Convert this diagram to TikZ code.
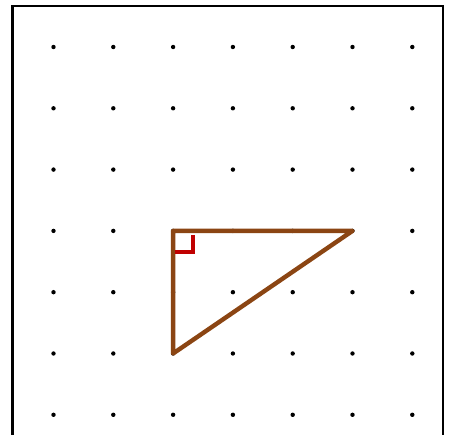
\documentclass[tikz,border=0pt]{standalone}
\usepackage{xcolor}
\usepackage{tikz}
\usetikzlibrary{calc}
\definecolor{sidebrown}{HTML}{8B4513}
\definecolor{markred}{HTML}{C00000}

\begin{document}
\begin{tikzpicture}[
    x=59.8pt, y=-61.3pt,
    gridpt/.style={
        circle, fill=black, inner sep=0pt, minimum size=4.4pt
    },
    frame/.style={
        draw=black, line width=2.2pt
    },
    side/.style={
        draw=sidebrown, line width=4.4pt, line cap=round, line join=round
    },
    rightmark/.style={
        draw=markred, line width=4.2pt
    }
]

% page size
\useasboundingbox (-53.5pt,47pt) rectangle (396.5pt,-388pt);

% outer frame
\draw[frame] (-41pt,41pt) rectangle (389.5pt,-400pt);

% dot grid
\foreach \i in {0,...,6} {
    \foreach \j in {0,...,6} {
        \node[gridpt] (d\i\j) at (\i,\j) {};
    }
}

% triangle
\coordinate (A) at (2,3);
\coordinate (B) at (5,3);
\coordinate (C) at (2,5);
\draw[side] (A) -- (B) -- (C) -- cycle;

% right angle
\draw[rightmark] ($(A)+(20pt,-4pt)$) -- ($(A)+(20pt,-21pt)$) -- ($(A)+(2pt,-21pt)$);

\end{tikzpicture}
\end{document}
